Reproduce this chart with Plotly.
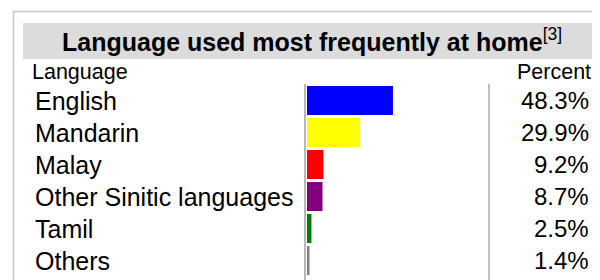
import plotly.graph_objects as go

languages = ["English", "Mandarin", "Malay", "Other Sinitic languages", "Tamil", "Others"]
percents = [48.3, 29.9, 9.2, 8.7, 2.5, 1.4]
bar_colors = ["#0000ff", "#ffff00", "#ff0000", "#800080", "#008000", "#808080"]
title_text = "Language used most frequently at home"
title_ref = "[3]"
col_left = "Language"
col_right = "Percent"

# the page body adds an 8px margin, so the figure is drawn 8px in from the corner
OFF = 8
W, H = 600 - OFF, 280 - OFF
FONT = "Liberation Sans, Arial, Helvetica, sans-serif"


def px(x):
    return (x - OFF) / W


def py(y):
    return 1 - (y - OFF) / H


fig = go.Figure()
fig.add_trace(go.Bar(
    x=percents, y=languages, orientation="h",
    marker=dict(color=bar_colors, line=dict(width=0)),
    hoverinfo="skip",
))

shapes = [
    # outer box
    dict(type="rect", xref="paper", yref="paper", x0=px(13.5), x1=px(640), y0=py(320), y1=py(11.5),
         line=dict(color="#c8c8c8", width=1.5), fillcolor="rgba(0,0,0,0)", layer="below"),
    # title band
    dict(type="rect", xref="paper", yref="paper", x0=px(23), x1=px(601), y0=py(59), y1=py(23),
         line=dict(width=0), fillcolor="#dcdcdc", layer="below"),
    # vertical separators
    dict(type="line", xref="paper", yref="paper", x0=px(305), x1=px(305), y0=py(84), y1=py(282),
         line=dict(color="#b8b8b8", width=2)),
    dict(type="line", xref="paper", yref="paper", x0=px(489), x1=px(489), y0=py(84), y1=py(282),
         line=dict(color="#c0c0c0", width=2)),
]

ann = [
    dict(text=f"<b>{title_text}</b><sup>{title_ref}</sup>", xref="paper", yref="paper",
         x=px(312), y=py(40), xanchor="center", yanchor="middle", showarrow=False,
         font=dict(family=FONT, size=25, color="#000000")),
    dict(text=col_left, xref="paper", yref="paper", x=px(30), y=py(72), xanchor="left",
         yanchor="middle", showarrow=False, font=dict(family=FONT, size=21.5, color="#000000")),
    dict(text=col_right, xref="paper", yref="paper", x=px(593), y=py(72), xanchor="right",
         yanchor="middle", showarrow=False, font=dict(family=FONT, size=21.5, color="#000000")),
]
for lang, p in zip(languages, percents):
    ann.append(dict(text=lang, xref="paper", yref="y", x=px(33), y=lang, xanchor="left",
                    yanchor="middle", showarrow=False, font=dict(family=FONT, size=25, color="#000000")))
    ann.append(dict(text=f"{p}%", xref="paper", yref="y", x=px(591), y=lang, xanchor="right",
                    yanchor="middle", showarrow=False, font=dict(family=FONT, size=24, color="#000000")))

y_top, y_bot = 84.5, 276.5
fig.update_layout(
    width=W, height=H, margin=dict(l=0, r=0, t=0, b=0),
    paper_bgcolor="white", plot_bgcolor="rgba(0,0,0,0)",
    showlegend=False, bargap=0.1,
    xaxis=dict(domain=[px(307), px(489)], range=[0, (489 - 307) / 1.78], visible=False, fixedrange=True),
    yaxis=dict(domain=[py(y_bot), py(y_top)], range=[5.5, -0.5], visible=False, fixedrange=True,
               categoryorder="array", categoryarray=languages),
    shapes=shapes, annotations=ann,
)

fig.write_html("out.html")
